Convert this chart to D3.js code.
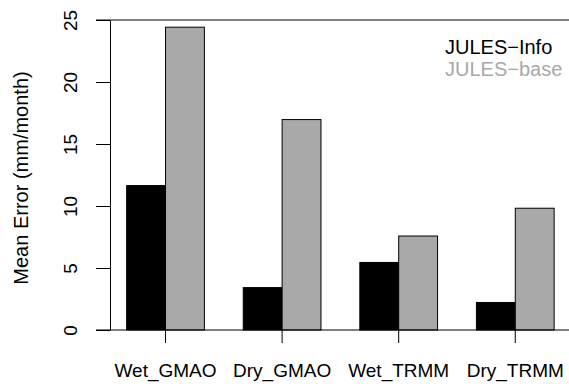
<!DOCTYPE html>
<html>
<head>
<meta charset="utf-8">
<script src="https://cdn.jsdelivr.net/npm/d3@7"></script>
<style>
  body { margin: 0; background: #fff; }
  svg text { font-family: "Liberation Sans", Arial, sans-serif; }
</style>
</head>
<body>
<svg id="chart" width="569" height="384"></svg>
<script>
// data
const categories = ['Wet_GMAO', 'Dry_GMAO', 'Wet_TRMM', 'Dry_TRMM']
const series = ['JULES−Info', 'JULES−base']
const infoValues = [11.65, 3.42, 5.45, 2.22]
const baseValues = [24.42, 16.97, 7.58, 9.82]
const yTicks = [0, 5, 10, 15, 20, 25]

const colors = { 'JULES−Info': '#000000', 'JULES−base': '#a9a9a9' }
const tickFont = 19
const labelFont = 20

const width = 569
const height = 384
const yTop = 20
const yBottom = 330
const axisX = 110

const svg = d3.select('#chart')

const xGroup = d3.scaleBand()
  .domain(categories)
  .range([87.8, 593])
  .paddingInner(1 / 3)
  .paddingOuter(1 / 3)

const xInner = d3.scaleBand()
  .domain(series)
  .range([0, xGroup.bandwidth()])

const y = d3.scaleLinear().domain([0, 25]).range([yBottom, yTop])

const rows = categories.map((c, i) => ({
  category: c,
  values: [
    { key: series[0], value: infoValues[i] },
    { key: series[1], value: baseValues[i] }
  ]
}))

// bars
svg.append('g')
  .selectAll('g')
  .data(rows)
  .join('g')
  .attr('transform', d => `translate(${xGroup(d.category)},0)`)
  .selectAll('rect')
  .data(d => d.values)
  .join('rect')
  .attr('x', d => xInner(d.key))
  .attr('y', d => y(d.value))
  .attr('width', xInner.bandwidth())
  .attr('height', d => y(0) - y(d.value))
  .attr('fill', d => colors[d.key])
  .attr('stroke', '#000')
  .attr('stroke-width', 1)

// horizontal lines at 0 and 25
svg.append('g')
  .selectAll('line')
  .data([0, 25])
  .join('line')
  .attr('x1', 96)
  .attr('x2', width)
  .attr('y1', d => y(d))
  .attr('y2', d => y(d))
  .attr('stroke', '#000')
  .attr('stroke-width', 1)

// y axis
const yAxis = d3.axisLeft(y).tickValues(yTicks).tickSize(14).tickSizeOuter(0)
const gy = svg.append('g')
  .attr('transform', `translate(${axisX},0)`)
  .call(yAxis)
gy.selectAll('path, line').attr('stroke', '#000')
gy.selectAll('text')
  .attr('x', null)
  .attr('dy', null)
  .attr('text-anchor', 'middle')
  .attr('transform', 'translate(-33,0) rotate(-90)')
  .attr('font-size', tickFont)
  .attr('font-family', null)
  .attr('fill', '#000')

// x axis
const xAxis = d3.axisBottom(xGroup).tickSize(13).tickSizeOuter(0)
const gx = svg.append('g')
  .attr('transform', `translate(0,${yBottom})`)
  .call(xAxis)
gx.select('.domain').remove()
gx.selectAll('line').attr('stroke', '#000')
gx.selectAll('text')
  .attr('y', 47)
  .attr('dy', null)
  .attr('font-size', tickFont)
  .attr('font-family', null)
  .attr('fill', '#000')

// y title
svg.append('text')
  .attr('transform', `translate(28,${(yTop + yBottom) / 2 + 3}) rotate(-90)`)
  .attr('text-anchor', 'middle')
  .attr('font-size', labelFont)
  .text('Mean Error (mm/month)')

// legend
svg.append('g')
  .selectAll('text')
  .data(series)
  .join('text')
  .attr('x', 445)
  .attr('y', (d, i) => 54 + i * 21.5)
  .attr('font-size', labelFont)
  .attr('fill', d => colors[d])
  .text(d => d)
</script>
</body>
</html>
